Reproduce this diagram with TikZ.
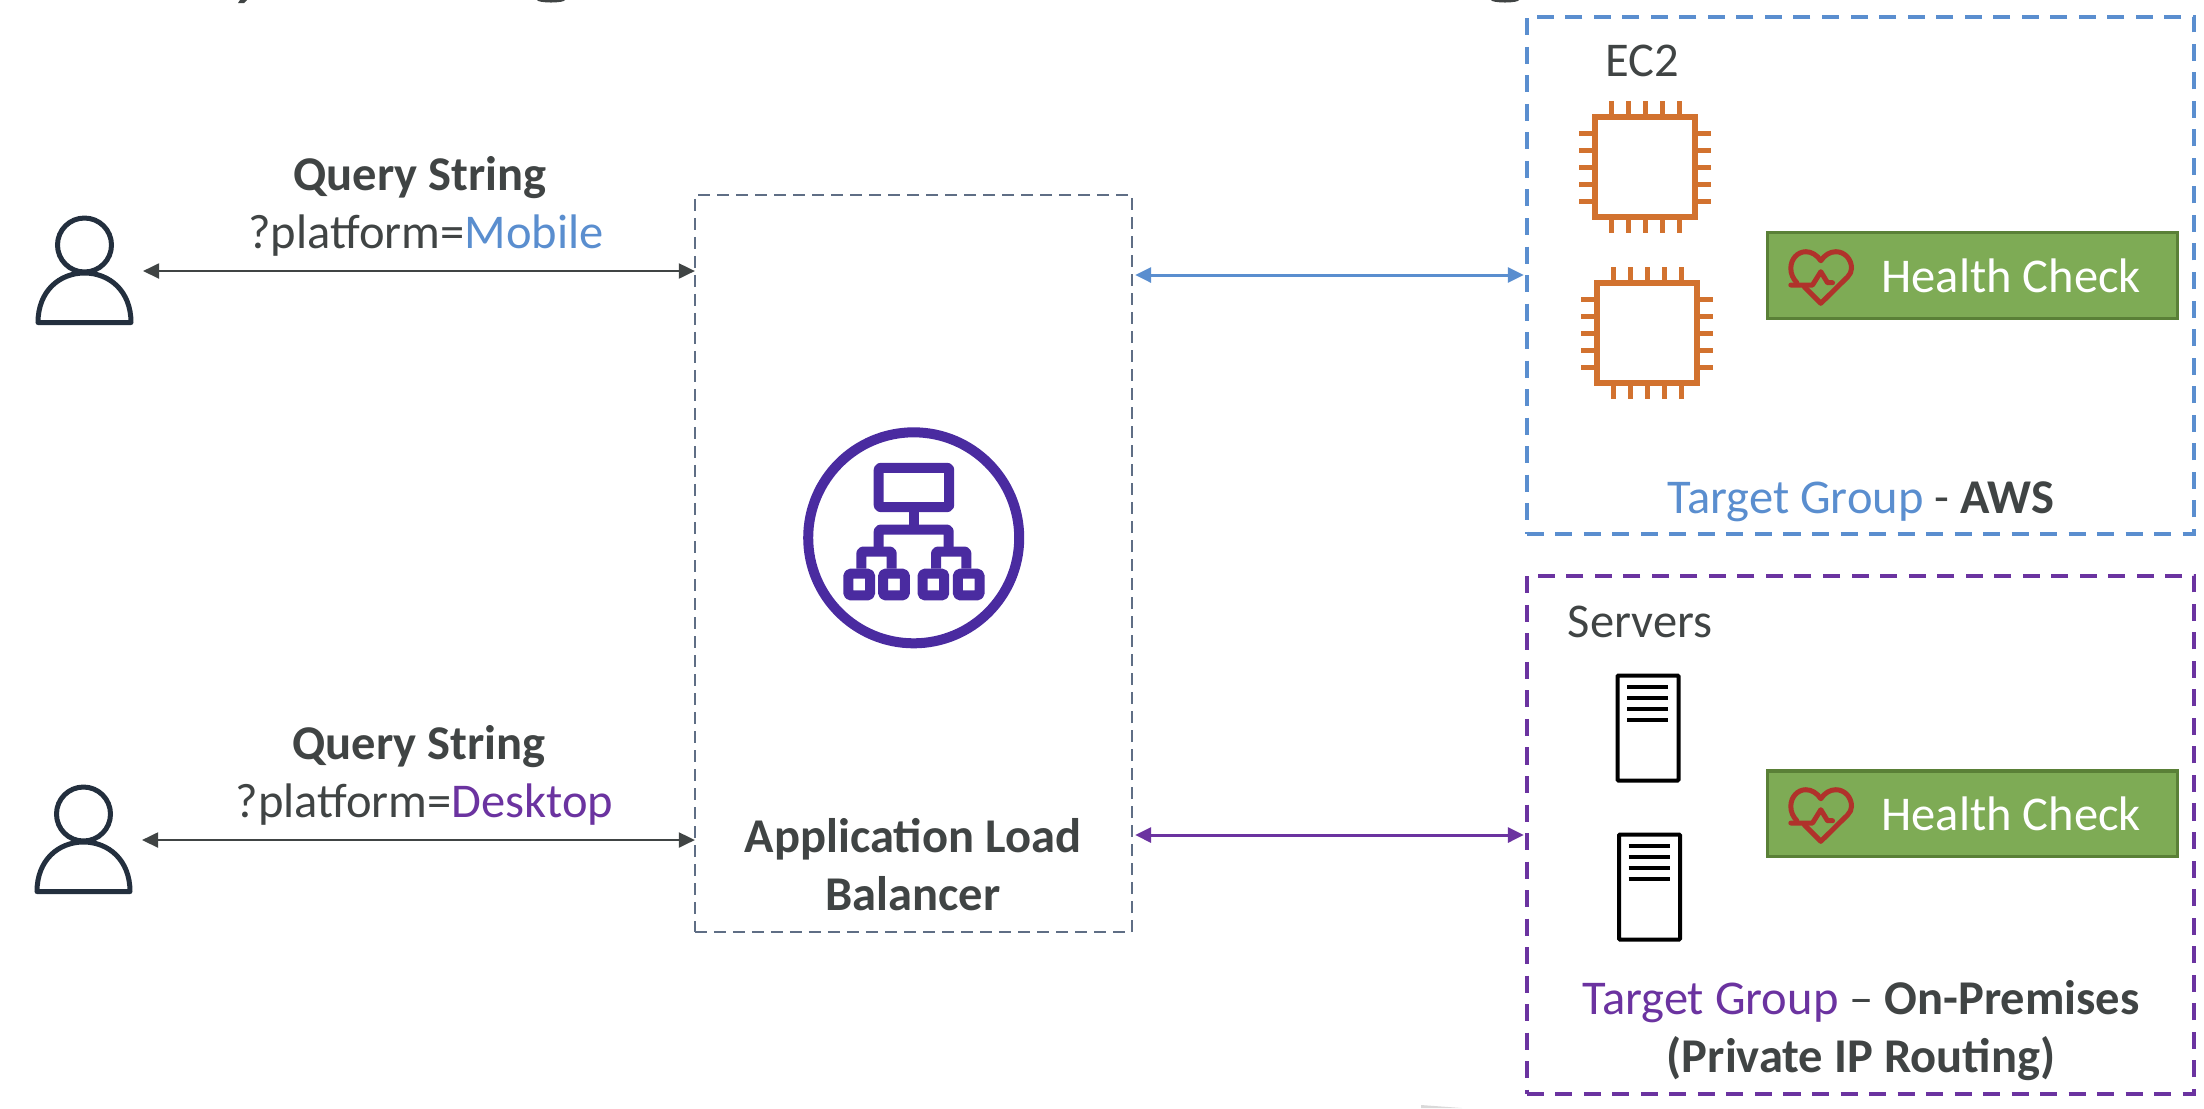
\documentclass[tikz,border=0pt]{standalone}
\usepackage{fontspec}
\setmainfont{Carlito}
\usetikzlibrary{arrows.meta}
\definecolor{labeldark}{HTML}{404444}
\definecolor{awsblue}{HTML}{5A8ECF}
\definecolor{onpurple}{HTML}{6B33A0}
\definecolor{albslate}{HTML}{5F6E85}
\definecolor{albicon}{HTML}{4A2BA0}
\definecolor{chiporange}{HTML}{D2722F}
\definecolor{userink}{HTML}{232F3E}
\definecolor{hcgreen}{HTML}{7EAB55}
\definecolor{hcborder}{HTML}{5A8037}
\definecolor{heartred}{HTML}{B0322B}

\begin{document}
\begin{tikzpicture}[x=0.01cm, y=-0.01cm,
    lbl/.style={font=\fontsize{13.8}{16.5}\selectfont, text=labeldark, inner sep=0pt, align=center},
    albbox/.style={draw=albslate, line width=0.025cm, dash pattern=on 0.12cm off 0.07cm, minimum width=4.37cm, minimum height=7.37cm, inner sep=0pt, outer sep=0pt},
    groupbox/.style={line width=0.036cm, dash pattern=on 0.17cm off 0.115cm, minimum width=6.67cm, inner sep=0pt, outer sep=0pt},
    hcbox/.style={draw=hcborder, fill=hcgreen, line width=0.03cm, minimum width=4.09cm, minimum height=0.85cm, inner sep=0pt, text=white,
        font=\fontsize{13.8}{16.5}\selectfont, execute at begin node=\hspace*{22pt}},
    spot/.style={minimum width=1cm, minimum height=1.1cm, inner sep=0pt, outer sep=0pt},
    flow/.style={{Triangle[length=0.16cm, width=0.15cm]}-{Triangle[length=0.16cm, width=0.15cm]}},
    user/.pic={
        \draw[userink, line width=0.05cm] (0,-26) circle (27);
        \draw[userink, line width=0.05cm, line join=round] (-46.5,51.5) .. controls (-46.5,20) and (-25,2) .. (0,2) .. controls (25,2) and (46.5,20) .. (46.5,51.5) -- cycle;
    },
    chip/.pic={
        \draw[chiporange, line width=0.06cm] (-50,-50) rectangle (50,50);
        \foreach \p in {-34,-17,0,17,34} {
            \draw[chiporange, line width=0.05cm] (\p,-66) -- (\p,-50) (\p,50) -- (\p,66) (-66,\p) -- (-50,\p) (50,\p) -- (66,\p);
        }
    },
    server/.pic={
        \draw[black, line width=0.04cm, rounded corners=0.01cm] (-30.5,-52.5) rectangle (30.5,52.5);
        \foreach \q in {-41,-30,-19,-8} {
            \draw[black, line width=0.04cm] (-21,\q) -- (20,\q);
        }
    },
    heartbeat/.pic={
        \begin{scope}[shift={(-195,-35.5)}, heartred, line width=0.05cm, line cap=round, line join=round]
        \draw (13.3,45) -- (35,45) -- (43.3,31.7) -- (50,42.7) -- (55,42.7);
        \draw (19.3,42.7) .. controls (15.5,38.5) and (13.3,34) .. (13.3,28.3) .. controls (13.3,19) and (20,11.7) .. (28.3,11.7) .. controls (34,11.7) and (39.5,15) .. (43.3,20.7) .. controls (47,15) and (52.5,11.7) .. (58.3,11.7) .. controls (67,11.7) and (74,19) .. (74,28.3) .. controls (74,31.5) and (72.5,34.5) .. (70,37) -- (43.3,63.3) -- (26.7,46.7);
        \end{scope}
    }
    ]
      \useasboundingbox (0,0) rectangle (2204,1108);

      % Cut off slide title and stray mark
      \fill[labeldark] (240,0) -- (247,0) -- (244,3) -- (238,3) -- cycle;
      \fill[labeldark] (551,0) ellipse (14 and 2.5);
      \fill[labeldark] (1505,0) ellipse (14 and 2.5);
      \fill[black!15] (1421,1108) -- (1421,1105) -- (1462,1108) -- cycle;

      % Clients
      \node[spot] (usermobile) at (84.5,271) {};
      \pic at (usermobile) {user};
      \node[spot] (userdesktop) at (83.5,840) {};
      \pic at (userdesktop) {user};
      \node[lbl] (querymobile) at (420,178) {\textbf{Query String}};
      \node[lbl] (parammobile) at (426,236) {?platform=\textcolor{awsblue}{Mobile}};
      \node[lbl] (querydesktop) at (419,747) {\textbf{Query String}};
      \node[lbl] (paramdesktop) at (424.5,805) {?platform=\textcolor{onpurple}{Desktop}};

      % Load balancer
      \node[albbox] (alb) at (913.5,563.5) {};
      \node[lbl] (albtext) at (913,865) {\textbf{Application Load}\\\textbf{Balancer}};
      \begin{scope}[shift={(913.7,537.8)}, albicon, line width=0.1cm, line join=round]
        \draw (0,0) circle (105.5);
        \draw[rounded corners=0.02cm] (-35,-70) rectangle (35.5,-30.7);
        \draw (0,-30.7) -- (0,-8.3);
        \draw[rounded corners=0.02cm] (-35,13.7) -- (-35,-8.3) -- (35,-8.3) -- (35,13.7);
        \foreach \b in {-37.2,37.5} {
            \draw[rounded corners=0.02cm] ({\b-15.2},30.7) -- ({\b-15.2},13.7) -- ({\b+15.2},13.7) -- ({\b+15.2},30.7);
        }
        \foreach \s in {-54.5,-19.7,19.7,55} {
            \draw[rounded corners=0.015cm] ({\s-10.8},35.9) rectangle ({\s+10.8},57.5);
        }
      \end{scope}

      % Target group AWS
      \node[groupbox, draw=awsblue, minimum height=5.17cm] (tgaws) at (1860.5,275.5) {};
      \node[lbl] (ectext) at (1642.5,61) {EC2};
      \node[spot] (chipa) at (1645,167) {};
      \pic at (chipa) {chip};
      \node[spot] (chipb) at (1647,333) {};
      \pic at (chipb) {chip};
      \node[hcbox] (hcaws) at (1972.5,275.5) {Health Check};
      \pic at (hcaws) {heartbeat};
      \node[lbl] (tgawstext) at (1861,502) {\textcolor{awsblue}{Target Group} - \textbf{AWS}};

      % Target group on premises
      \node[groupbox, draw=onpurple, minimum height=5.18cm] (tgprem) at (1860.5,835) {};
      \node[lbl] (servertext) at (1640,622) {Servers};
      \node[spot] (servera) at (1648,728) {};
      \pic at (servera) {server};
      \node[spot] (serverb) at (1649.5,887) {};
      \pic at (serverb) {server};
      \node[hcbox] (hcprem) at (1972.5,813.5) {Health Check};
      \pic at (hcprem) {heartbeat};
      \node[lbl] (tgpremtext) at (1861,1030.5) {\textcolor{onpurple}{Target Group} – \textbf{On-Premises}\\\textbf{(Private IP Routing)}};

      % Connectors
      \coordinate (bluelevel) at (0,275);
      \coordinate (purplelevel) at (0,835);
      \draw[flow, draw=labeldark, fill=labeldark, line width=0.02cm] (usermobile.east) ++(8.5,0) -- (alb.west |- usermobile);
      \draw[flow, draw=labeldark, fill=labeldark, line width=0.02cm] (userdesktop.east) ++(8.5,0) -- (alb.west |- userdesktop);
      \draw[flow, draw=awsblue, fill=awsblue, line width=0.03cm, shorten <=0.03cm, shorten >=0.03cm] (alb.east |- bluelevel) -- (tgaws.west |- bluelevel);
      \draw[flow, draw=onpurple, fill=onpurple, line width=0.03cm, shorten <=0.03cm, shorten >=0.03cm] (alb.east |- purplelevel) -- (tgprem.west |- purplelevel);
    \end{tikzpicture}
\end{document}
